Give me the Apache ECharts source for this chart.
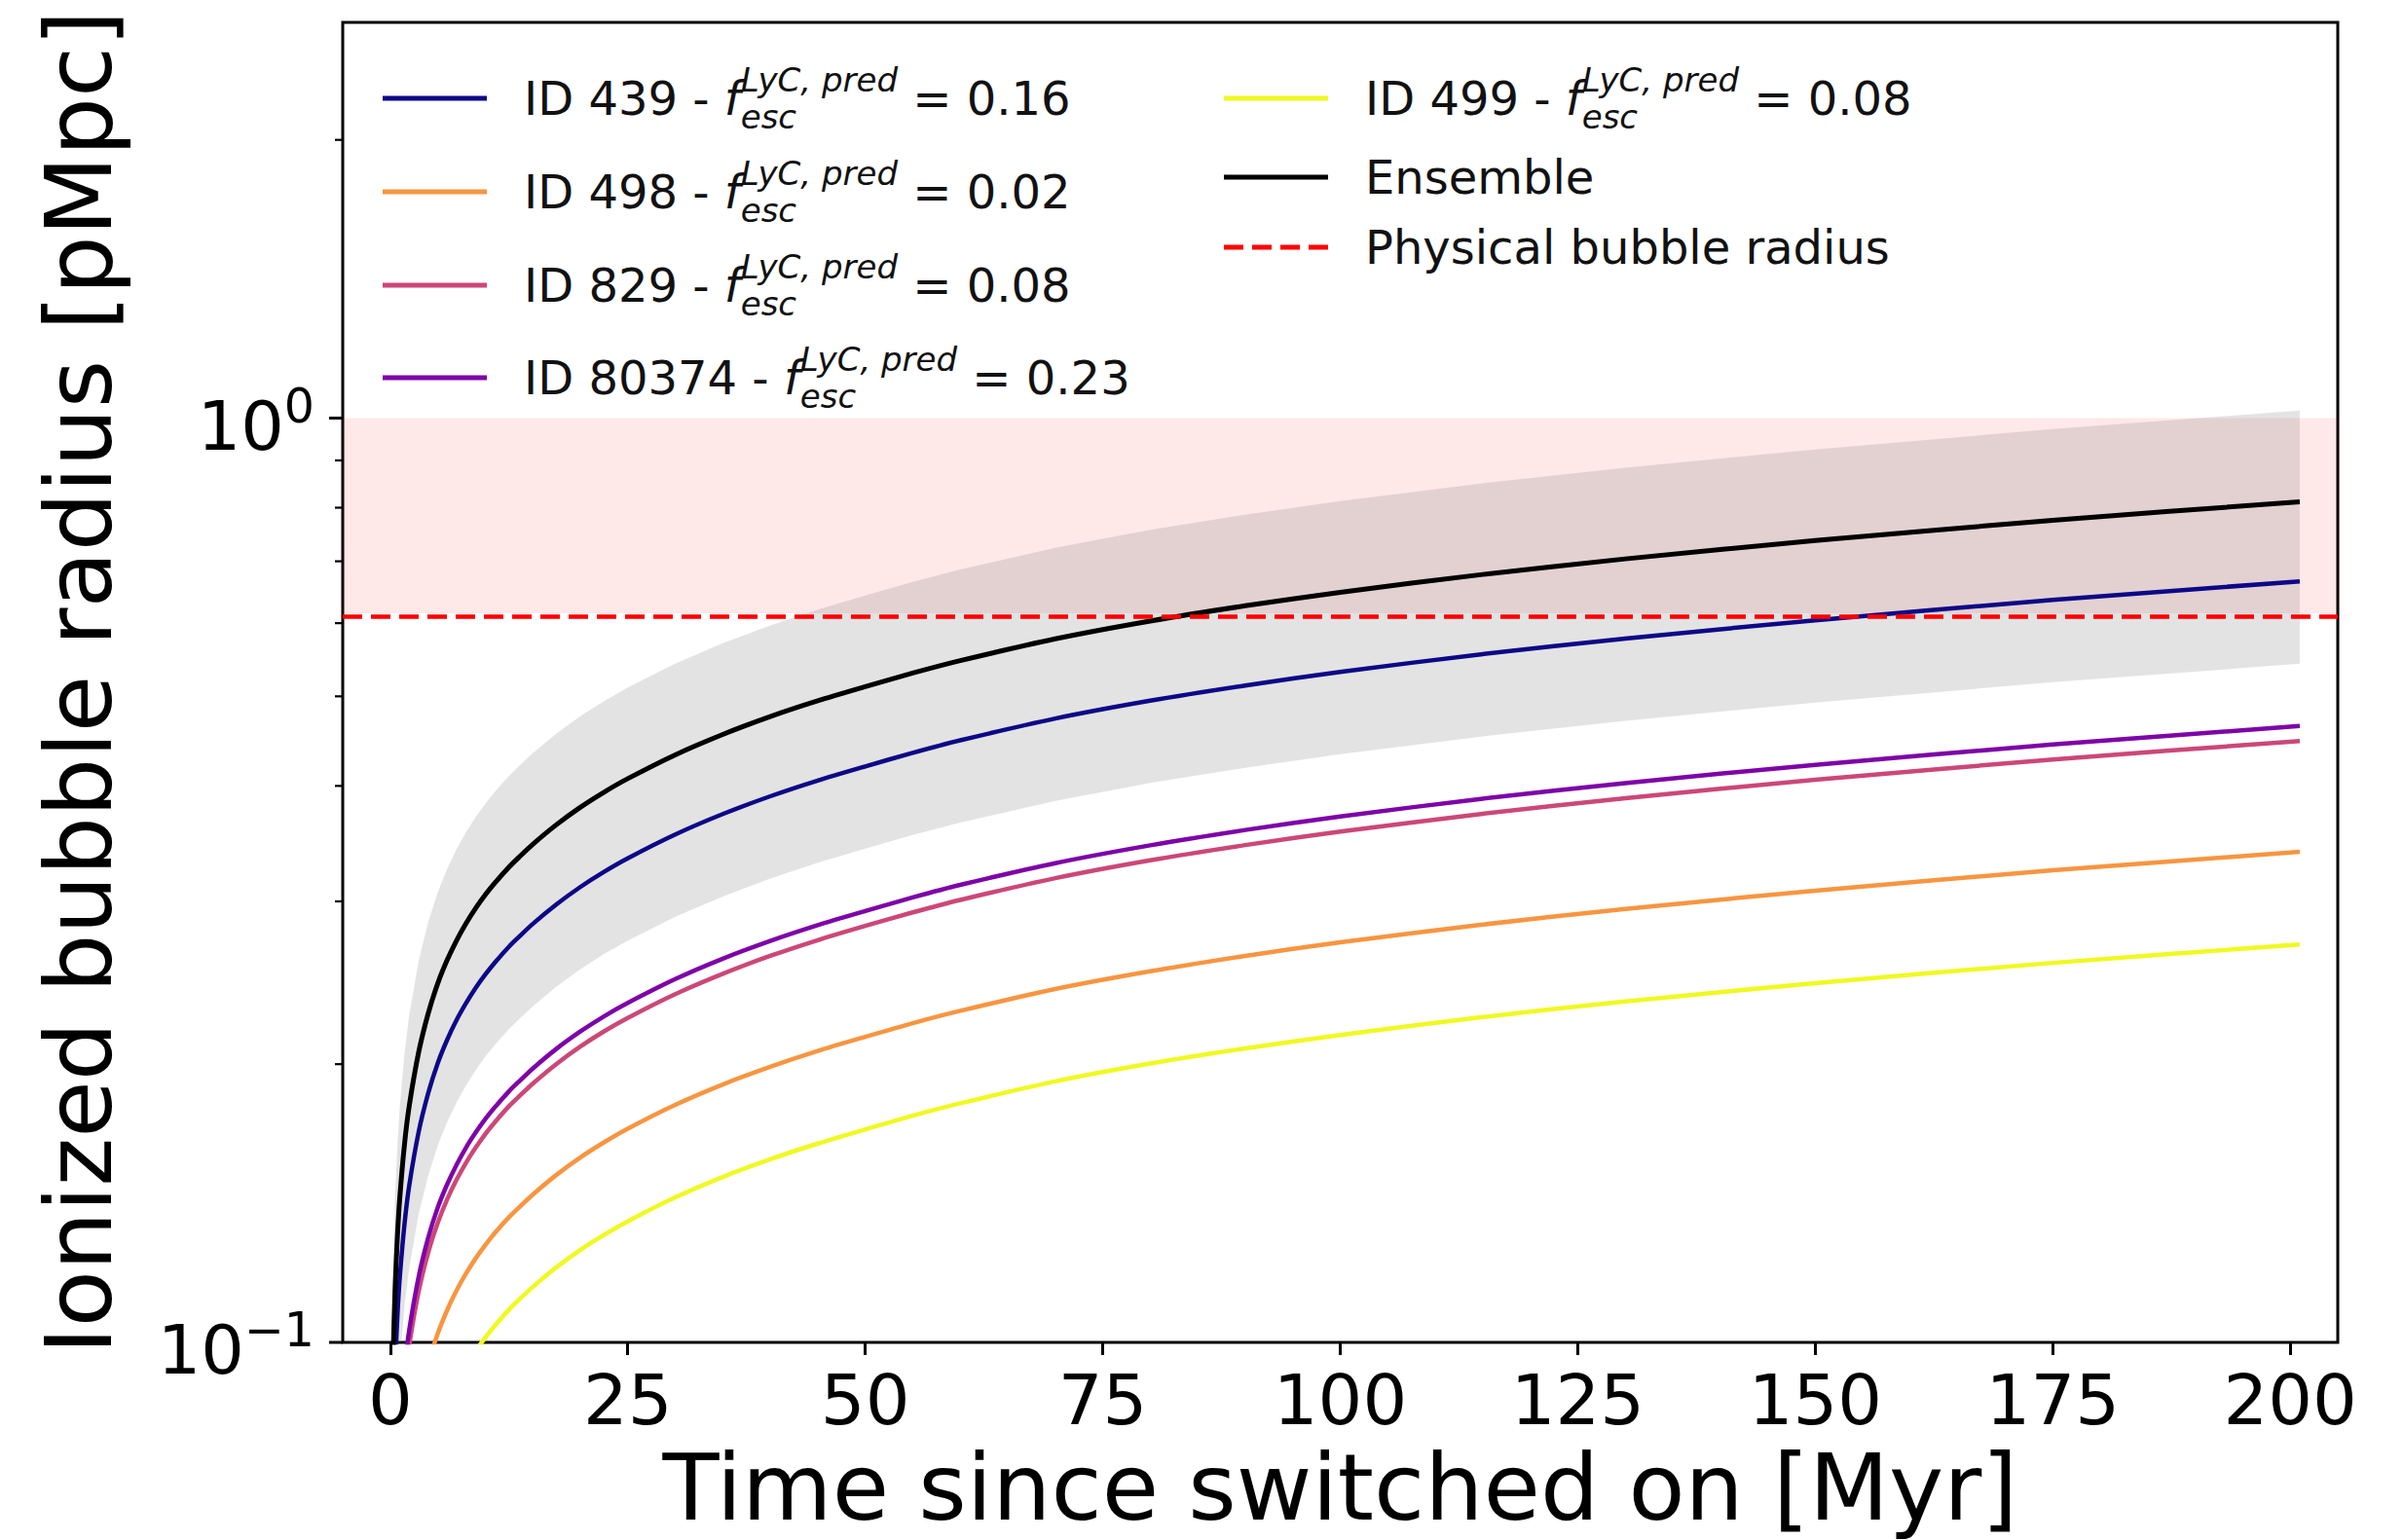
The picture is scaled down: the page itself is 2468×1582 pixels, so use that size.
<!DOCTYPE html>
<html>
<head>
<meta charset="utf-8">
<script src="https://cdn.jsdelivr.net/npm/echarts@6/dist/echarts.min.js"></script>
<style>
html,body{margin:0;padding:0;background:#fff;}
#bubble{width:2468px;height:1582px;}
</style>
</head>
<body>
<div id="bubble"></div>
<script>
// time since switched on [Myr]
var times = [0.1, 0.2, 0.3, 0.5, 0.75, 1, 1.5, 2, 3, 4, 5, 6, 7, 8, 9, 10, 11, 12.5, 13.5, 15, 17.5, 20, 22.5, 25, 30, 35, 40, 45, 50, 55, 60, 70, 80, 90, 100, 115, 130, 150, 175, 201];

// ionized bubble radius [pMpc]
var ensemble   = [0.0664, 0.0836, 0.0957, 0.1135, 0.1299, 0.1430, 0.1637, 0.1802, 0.2062, 0.2270, 0.2445, 0.2593, 0.2724, 0.2842, 0.2950, 0.3049, 0.3140, 0.3268, 0.3345, 0.3458, 0.3632, 0.3792, 0.3938, 0.4073, 0.4322, 0.4547, 0.4754, 0.4944, 0.5121, 0.5298, 0.5465, 0.5770, 0.6032, 0.6265, 0.6480, 0.6774, 0.7042, 0.7370, 0.7753, 0.8119];
var ensembleHi = [0.0833, 0.1049, 0.1201, 0.1424, 0.1630, 0.1795, 0.2054, 0.2262, 0.2588, 0.2849, 0.3068, 0.3254, 0.3419, 0.3567, 0.3702, 0.3826, 0.3941, 0.4101, 0.4198, 0.4340, 0.4558, 0.4759, 0.4942, 0.5112, 0.5424, 0.5706, 0.5966, 0.6205, 0.6427, 0.6649, 0.6859, 0.7241, 0.7570, 0.7863, 0.8132, 0.8501, 0.8838, 0.9249, 0.9730, 1.0189];
var ensembleLo = [0.0444, 0.0558, 0.0639, 0.0758, 0.0868, 0.0955, 0.1094, 0.1204, 0.1377, 0.1516, 0.1633, 0.1732, 0.1820, 0.1898, 0.1971, 0.2037, 0.2098, 0.2183, 0.2234, 0.2310, 0.2426, 0.2533, 0.2631, 0.2721, 0.2887, 0.3037, 0.3176, 0.3303, 0.3421, 0.3539, 0.3651, 0.3854, 0.4029, 0.4185, 0.4329, 0.4525, 0.4704, 0.4923, 0.5179, 0.5423];
var id439   = [0.0544, 0.0686, 0.0785, 0.0931, 0.1065, 0.1173, 0.1342, 0.1478, 0.1691, 0.1861, 0.2005, 0.2126, 0.2234, 0.2330, 0.2419, 0.2500, 0.2575, 0.2680, 0.2743, 0.2836, 0.2978, 0.3109, 0.3229, 0.3340, 0.3544, 0.3729, 0.3898, 0.4054, 0.4199, 0.4344, 0.4481, 0.4731, 0.4946, 0.5137, 0.5314, 0.5555, 0.5774, 0.6043, 0.6357, 0.6658];
var id498   = [0.0278, 0.0349, 0.0400, 0.0474, 0.0543, 0.0598, 0.0684, 0.0753, 0.0862, 0.0949, 0.1022, 0.1084, 0.1139, 0.1188, 0.1233, 0.1274, 0.1313, 0.1366, 0.1398, 0.1445, 0.1518, 0.1585, 0.1646, 0.1703, 0.1807, 0.1901, 0.1987, 0.2067, 0.2141, 0.2215, 0.2284, 0.2412, 0.2521, 0.2619, 0.2709, 0.2832, 0.2944, 0.3081, 0.3241, 0.3394];
var id829   = [0.0366, 0.0461, 0.0527, 0.0625, 0.0716, 0.0788, 0.0902, 0.0993, 0.1136, 0.1251, 0.1347, 0.1429, 0.1501, 0.1566, 0.1625, 0.1680, 0.1730, 0.1801, 0.1843, 0.1905, 0.2001, 0.2089, 0.2170, 0.2244, 0.2381, 0.2505, 0.2619, 0.2724, 0.2822, 0.2919, 0.3011, 0.3179, 0.3324, 0.3452, 0.3570, 0.3732, 0.3880, 0.4061, 0.4272, 0.4474];
var id80374 = [0.0380, 0.0478, 0.0547, 0.0649, 0.0743, 0.0818, 0.0936, 0.1031, 0.1179, 0.1298, 0.1399, 0.1483, 0.1558, 0.1626, 0.1687, 0.1744, 0.1796, 0.1869, 0.1913, 0.1978, 0.2078, 0.2169, 0.2253, 0.2330, 0.2472, 0.2601, 0.2719, 0.2828, 0.2929, 0.3030, 0.3126, 0.3300, 0.3450, 0.3584, 0.3707, 0.3875, 0.4028, 0.4216, 0.4435, 0.4644];
var id499   = [0.0220, 0.0278, 0.0318, 0.0377, 0.0431, 0.0475, 0.0543, 0.0598, 0.0685, 0.0754, 0.0812, 0.0861, 0.0904, 0.0944, 0.0979, 0.1012, 0.1042, 0.1085, 0.1111, 0.1148, 0.1206, 0.1259, 0.1307, 0.1352, 0.1435, 0.1510, 0.1578, 0.1641, 0.1700, 0.1759, 0.1814, 0.1916, 0.2003, 0.2080, 0.2151, 0.2249, 0.2338, 0.2447, 0.2574, 0.2695];

var galaxyNames = ['ID 439', 'ID 498', 'ID 829', 'ID 80374', 'ID 499'];
var fescPred    = ['0.16', '0.02', '0.08', '0.23', '0.08'];
var physicalRadius = 0.615;
var physicalSpan = [0.615, 1.0];

var xTicks = [0, 25, 50, 75, 100, 125, 150, 175, 200];
var yMajorTicks = [0.1, 1];
var yMinorTicks = [0.2, 0.3, 0.4, 0.5, 0.6, 0.7, 0.8, 0.9, 2];

var FONT = "'DejaVu Sans', sans-serif";

function pairs(vals){
  return times.map(function(t, i){ return [t, vals[i]]; });
}

function curve(name, vals, color, width, z){
  return {
    type: 'line', name: name, data: pairs(vals),
    symbol: 'none', showSymbol: false, smooth: 0.25,
    clip: true, z: z, silent: true,
    lineStyle: {color: color, width: width, join: 'round'},
    itemStyle: {color: color}
  };
}

var legendRich = {
  g:   {width: 33, fontSize: 48, lineHeight: 72, fontFamily: FONT},
  a:   {fontSize: 48, lineHeight: 72, fontFamily: FONT, color: '#111'},
  f:   {fontSize: 48, lineHeight: 72, fontFamily: FONT, fontStyle: 'italic', color: '#111'},
  sub: {fontSize: 34, lineHeight: 34, fontFamily: FONT, fontStyle: 'italic', verticalAlign: 'bottom', width: 0, color: '#111'},
  sup: {fontSize: 34, lineHeight: 34, fontFamily: FONT, fontStyle: 'italic', verticalAlign: 'top', color: '#111'}
};
var plainRich = {
  g: {width: 33, fontSize: 48, lineHeight: 66, fontFamily: FONT},
  a: {fontSize: 48, lineHeight: 66, fontFamily: FONT, color: '#111'}
};

function legendLabel(name){
  var k = galaxyNames.indexOf(name);
  if (k < 0) return '{g| }{a|' + name + '}';
  return '{g| }{a|' + name + ' - }{f|f}{sub|esc}{sup|LyC, pred}{a| = ' + fescPred[k] + '}';
}

function legendFor(name, left, rowY, icon){
  var isMath = galaxyNames.indexOf(name) >= 0;
  return {
    data: [name], left: left, top: isMath ? rowY - 36 : rowY - 25, padding: 0,
    itemWidth: 107, itemHeight: 5, icon: icon,
    formatter: legendLabel,
    textStyle: {fontSize: 48, fontFamily: FONT, color: '#111', rich: isMath ? legendRich : plainRich}
  };
}

var dashIcon = 'path://M0,0H20V5H0Z M29,0H49V5H29Z M58,0H78V5H58Z M87,0H107V5H87Z';

var chart = echarts.init(document.getElementById('bubble'), null, {renderer: 'svg'});

var option = {
  animation: false,
  backgroundColor: '#fff',
  grid: {left: 352, right: 67, top: 23, bottom: 203, show: true, borderColor: '#000', borderWidth: 3, backgroundColor: 'transparent'},
  legend: [
    legendFor('ID 439', 393, 101, 'rect'),
    legendFor('ID 498', 393, 197, 'rect'),
    legendFor('ID 829', 393, 293, 'rect'),
    legendFor('ID 80374', 393, 388, 'rect'),
    legendFor('ID 499', 1257, 101, 'rect'),
    legendFor('Ensemble', 1257, 183, 'rect'),
    legendFor('Physical bubble radius', 1257, 255, dashIcon)
  ],
  xAxis: {
    type: 'value', min: -5, max: 205,
    name: 'Time since switched on [Myr]', nameLocation: 'middle', nameGap: 101,
    nameTextStyle: {fontSize: 95, fontFamily: FONT, color: '#000'},
    axisLine: {show: false},
    splitLine: {show: false},
    axisTick: {show: true, customValues: xTicks, length: 13, lineStyle: {color: '#000', width: 3}},
    axisLabel: {customValues: xTicks, margin: 23, fontSize: 72, fontFamily: FONT, color: '#000'}
  },
  yAxis: {
    type: 'log', logBase: 10, min: 0.1, max: 2.68,
    name: 'Ionized bubble radius [pMpc]', nameLocation: 'middle', nameGap: 224, nameRotate: 90,
    nameTextStyle: {fontSize: 95, fontFamily: FONT, color: '#000'},
    axisLine: {show: false},
    splitLine: {show: false},
    minorTick: {show: false},
    axisTick: {show: false},
    axisLabel: {
      margin: 29, showMaxLabel: false, color: '#000', padding: [16, 0, 0, 0],
      formatter: function(v){
        if (Math.abs(v - 1) < 1e-6) return '{b|10}{s|0}';
        if (Math.abs(v - 0.1) < 1e-6) return '{b|10}{s|\u22121}';
        return '';
      },
      rich: {
        b: {fontSize: 70, lineHeight: 90, fontFamily: FONT, color: '#000'},
        s: {fontSize: 49, lineHeight: 49, fontFamily: FONT, color: '#000', verticalAlign: 'top'}
      }
    }
  },
  series: [
    {
      type: 'line', name: 'Physical bubble radius', data: [], z: 1,
      symbol: 'none',
      lineStyle: {color: '#ff0000', width: 4, type: [20, 9]},
      itemStyle: {color: '#ff0000'},
      markArea: {
        silent: true, z: 0,
        itemStyle: {color: 'rgba(255,0,0,0.09)'},
        data: [[{yAxis: physicalSpan[0]}, {yAxis: physicalSpan[1]}]]
      },
      markLine: {
        silent: true, symbol: ['none', 'none'], z: 6,
        label: {show: false},
        lineStyle: {color: '#ff0000', width: 4.5, type: [20, 9]},
        data: [{yAxis: physicalRadius}]
      }
    },
    {
      type: 'custom', name: 'spread', silent: true, z: 2, clip: true,
      data: times.map(function(t, i){ return [t, ensembleLo[i], ensembleHi[i]]; }),
      encode: {x: 0, y: [1, 2]},
      renderItem: function(params, api){
        if (params.dataIndex !== 0) return null;
        var up = [], lo = [];
        for (var i = 0; i < times.length; i++) {
          up.push(api.coord([times[i], ensembleHi[i]]));
          lo.push(api.coord([times[i], ensembleLo[i]]));
        }
        var cs = params.coordSys;
        return {
          type: 'group',
          clipPath: {type: 'rect', shape: {x: cs.x, y: cs.y, width: cs.width, height: cs.height}},
          children: [{
            type: 'polygon',
            shape: {points: up.concat(lo.reverse())},
            style: {fill: 'rgba(128,128,128,0.22)', stroke: null}
          }]
        };
      }
    },
    curve('ID 439', id439, '#0d0887', 4.5, 4),
    curve('ID 498', id498, '#f89540', 4.5, 4),
    curve('ID 829', id829, '#cc4778', 4.5, 4),
    curve('ID 80374', id80374, '#7e03a8', 4.5, 4),
    curve('ID 499', id499, '#f0f921', 4.5, 4),
    curve('Ensemble', ensemble, '#000000', 5, 5),
    {
      // major and minor ticks of the log axis
      type: 'custom', name: 'yticks', silent: true, z: 7, clip: false,
      data: yMajorTicks.map(function(v){ return [1, v]; }).concat(yMinorTicks.map(function(v){ return [0, v]; })),
      encode: {x: 0, y: 1},
      renderItem: function(params, api){
        var major = api.value(0) === 1;
        var y = api.coord([0, api.value(1)])[1];
        var x0 = params.coordSys.x;
        var len = major ? 14 : 8;
        return {
          type: 'line',
          shape: {x1: x0 - len, y1: y, x2: x0, y2: y},
          style: {stroke: '#000', lineWidth: major ? 3 : 2.2}
        };
      }
    }
  ]
};

chart.setOption(option);
</script>
</body>
</html>
